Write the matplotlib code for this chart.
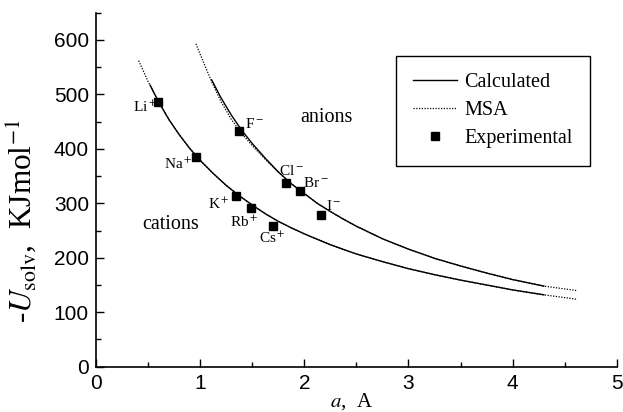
import matplotlib.pyplot as plt
from matplotlib.ticker import MultipleLocator

# ion radius a (A) and -U_solv (kJ/mol)
cat_calc_a = [0.52, 0.6, 0.7, 0.8, 0.9, 1.0, 1.125, 1.25, 1.375, 1.5, 1.625, 1.75, 1.875, 2.0,
              2.25, 2.5, 2.75, 3.0, 3.25, 3.5, 3.75, 4.0, 4.3]
cat_calc_u = [517, 487, 454, 426, 401, 379, 355, 333, 314, 297, 281, 267, 255, 244,
              224, 207, 193, 180, 169, 159, 150, 141, 132]
cat_msa_a = [0.41, 0.5, 0.6, 0.7, 0.8, 0.9, 1.0, 1.125, 1.25, 1.375, 1.5, 1.625, 1.75, 1.875,
             2.0, 2.25, 2.5, 2.75, 3.0, 3.25, 3.5, 3.75, 4.0, 4.3, 4.61]
cat_msa_u = [562, 524, 487, 454, 426, 401, 379, 355, 333, 314, 297, 281, 267, 255,
             244, 224, 207, 193, 180, 169, 159, 150, 141, 132, 124]

an_calc_a = [1.11, 1.2, 1.3, 1.4, 1.5, 1.625, 1.75, 1.875, 2.0, 2.125, 2.25, 2.375, 2.5, 2.75,
             3.0, 3.25, 3.5, 3.75, 4.0, 4.3]
an_calc_u = [527, 494, 462, 434, 410, 383, 358, 336, 318, 300, 285, 271, 258, 235,
             216, 199, 185, 172, 160, 148]
an_msa_a = [0.96, 1.0, 1.05, 1.11, 1.2, 1.3, 1.4, 1.5, 1.625, 1.75, 1.875, 2.0, 2.125, 2.25,
            2.375, 2.5, 2.75, 3.0, 3.25, 3.5, 3.75, 4.0, 4.3, 4.61]
an_msa_u = [593, 574, 551, 524, 487, 454, 428, 406, 381, 357, 336, 318, 300, 285,
            271, 258, 235, 216, 199, 185, 172, 160, 148, 140]

ions = ["Li$^+$", "Na$^+$", "K$^+$", "Rb$^+$", "Cs$^+$", "F$^-$", "Cl$^-$", "Br$^-$", "I$^-$"]
exp_a = [0.60, 0.96, 1.34, 1.49, 1.70, 1.375, 1.82, 1.96, 2.165]
exp_u = [487, 386, 313, 291, 258, 432, 337, 322, 278]

# where each ion name sits
lab_x = [0.585, 0.93, 1.28, 1.425, 1.69, 1.43, 1.875, 1.99, 2.21]
lab_y = [477, 372, 299, 266, 235, 445, 360, 338, 296]
lab_ha = ["right", "right", "right", "center", "center", "left", "center", "left", "left"]

plt.rcParams["font.family"] = "Liberation Serif"
plt.rcParams["mathtext.fontset"] = "stix"

fig = plt.figure(figsize=(6.23, 4.12), dpi=100)
ax = fig.add_axes([0.154, 0.110, 0.836, 0.859])

ax.plot(cat_msa_a, cat_msa_u, color="black", lw=0.9, ls=(0, (1, 1.2)))
ax.plot(an_msa_a, an_msa_u, color="black", lw=0.9, ls=(0, (1, 1.2)), label="MSA")
ax.plot(cat_calc_a, cat_calc_u, color="black", lw=1.0)
ax.plot(an_calc_a, an_calc_u, color="black", lw=1.0, label="Calculated")
ax.plot(exp_a, exp_u, "s", color="black", ms=5.5, label="Experimental")

for name, x, y, ha in zip(ions, lab_x, lab_y, lab_ha):
    ax.text(x, y, name, ha=ha, va="center", fontsize=11)

ax.text(1.96, 458, "anions", fontsize=14.5, va="center")
ax.text(0.44, 262, "cations", fontsize=14.5, va="center")

handles, labels = ax.get_legend_handles_labels()
order = [1, 0, 2]
leg = ax.legend([handles[i] for i in order], [labels[i] for i in order],
                loc="upper right", bbox_to_anchor=(0.948, 0.878), fontsize=14.5,
                fancybox=False, edgecolor="black", framealpha=1, handlelength=2.2,
                handletextpad=0.35, labelspacing=0.45, borderpad=0.85, borderaxespad=0)
leg.get_frame().set_linewidth(1.0)

ax.set_xlim(0, 5)
ax.set_ylim(0, 650)
ax.xaxis.set_major_locator(MultipleLocator(1))
ax.xaxis.set_minor_locator(MultipleLocator(0.5))
ax.yaxis.set_major_locator(MultipleLocator(100))
ax.yaxis.set_minor_locator(MultipleLocator(50))
ax.tick_params(which="both", direction="in", width=1.0)
ax.tick_params(which="major", length=6)
ax.tick_params(which="minor", length=3.5)
ax.tick_params(axis="x", pad=5)
ax.tick_params(axis="y", pad=5)
for lab in ax.get_xticklabels() + ax.get_yticklabels():
    lab.set_fontfamily("Liberation Sans")
    lab.set_fontsize(15)

ax.spines["top"].set_visible(False)
ax.spines["right"].set_visible(False)
ax.spines["left"].set_linewidth(1.2)
ax.spines["bottom"].set_linewidth(1.2)

ax.set_xlabel("$a$,  A", fontsize=15)
ax.xaxis.set_label_coords(0.49, -0.07)
ax.set_ylabel("-$U_{\\mathrm{solv}}$,  KJmol$^{-1}$", fontsize=22.5)
ax.yaxis.set_label_coords(-0.11, 0.41)

plt.savefig("out.png", dpi=100)
plt.close()
